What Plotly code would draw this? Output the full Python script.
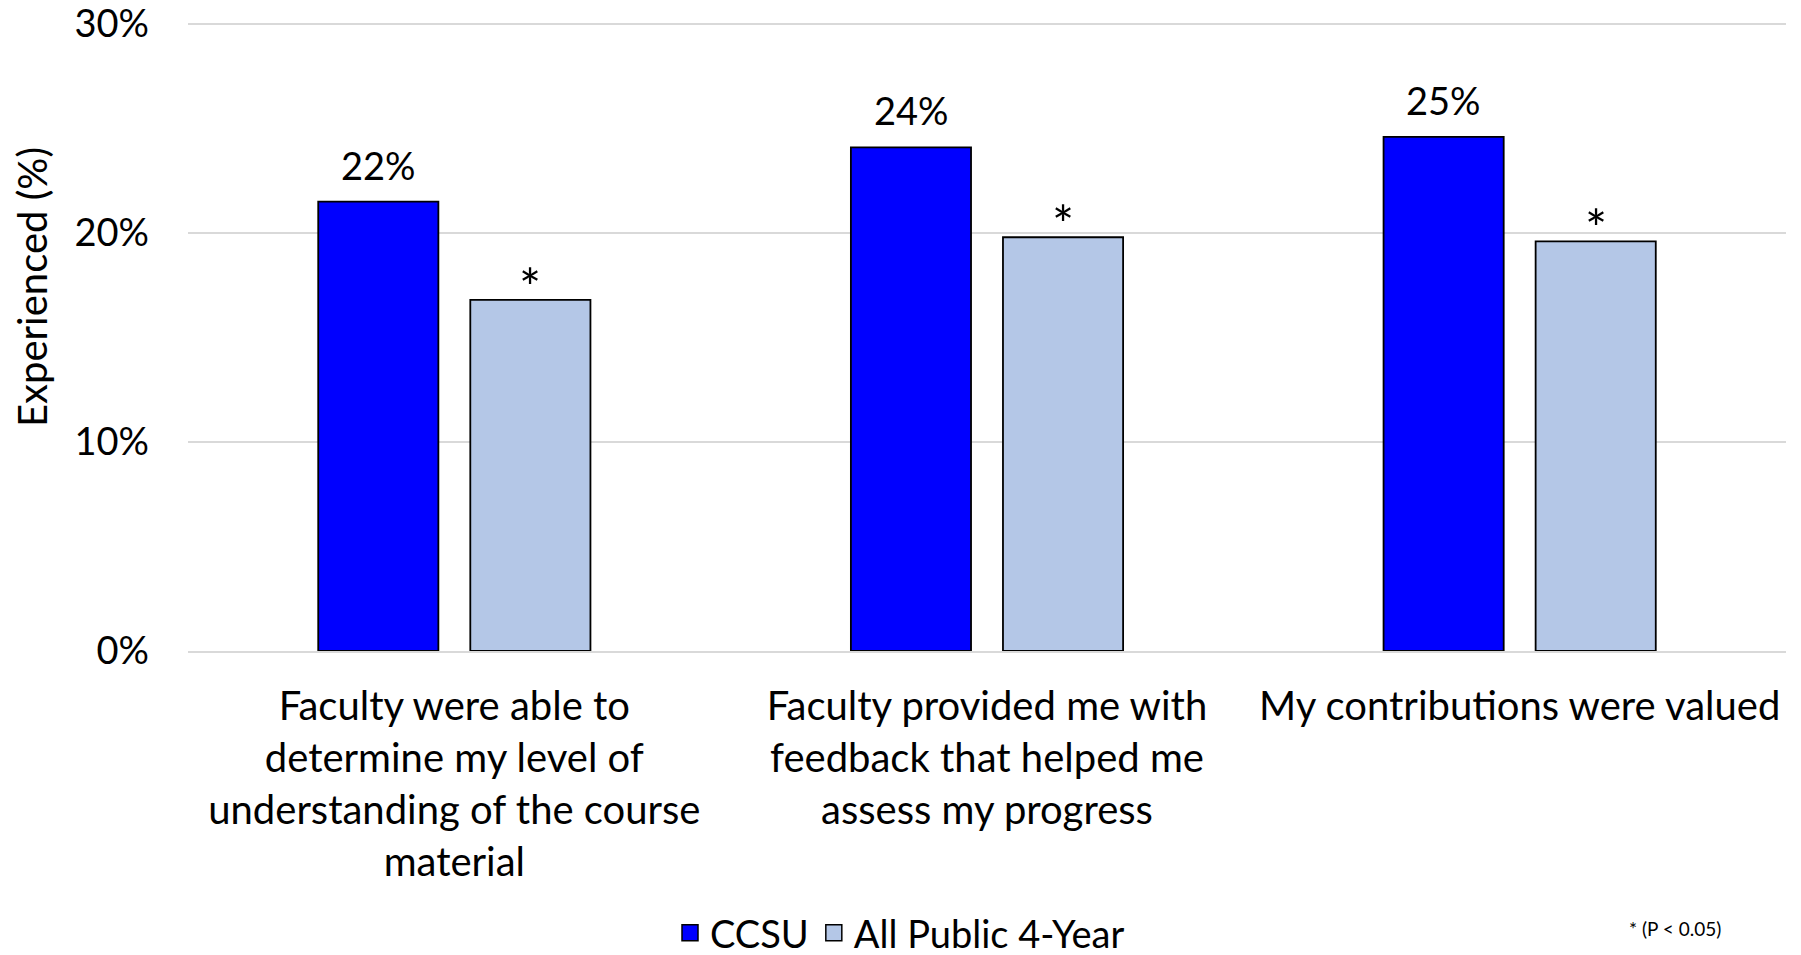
import plotly.graph_objects as go

categories = [
    "Faculty were able to<br>determine my level of<br>understanding of the course<br>material",
    "Faculty provided me with<br>feedback that helped me<br>assess my progress",
    "My contributions were valued",
]
ccsu = [21.5, 24.1, 24.6]
public4 = [16.8, 19.8, 19.6]
ccsu_labels = ["22%", "24%", "25%"]
public_labels = ["*", "*", "*"]
tick_vals = [0, 10, 20, 30]
tick_text = ["0%", "10%", "20%", "30%"]

FONT = "Lato"
FS = 38
C1 = "#0000FF"
C2 = "#B4C7E7"

# page is offset by the browser's 8px body margin
W, H = 1793, 947
L, R, T, B = 180, 15, 14, 304
PW, PH = W - L - R, H - T - B


def px(xl):
    return (xl - 8 - L) / PW


def py(yl):
    return (H - B - (yl - 8)) / PH


fig = go.Figure()
fig.add_trace(go.Bar(
    x=categories, y=ccsu, name="CCSU", marker=dict(color=C1, line=dict(color="black", width=1.8)),
    showlegend=False,
))
fig.add_trace(go.Bar(
    x=categories, y=public4, name="All Public 4-Year", marker=dict(color=C2, line=dict(color="black", width=1.8)),
    showlegend=False,
))
for nm, col in [("CCSU", C1), ("All Public 4-Year", C2)]:
    fig.add_trace(go.Scatter(
        x=[None], y=[None], mode="markers", name=nm,
        marker=dict(symbol="square", size=22, color=col, line=dict(color="black", width=1.5)),
    ))

annotations = []
for cat, v, lab in zip(categories, ccsu, ccsu_labels):
    annotations.append(dict(x=cat, y=v, xref="x", yref="y", text=lab, showarrow=False,
                            xshift=-76, yshift=12, yanchor="bottom", font=dict(size=FS)))
for cat, v, lab in zip(categories, public4, public_labels):
    annotations.append(dict(x=cat, y=v, xref="x", yref="y", text=lab, showarrow=False,
                            xshift=76, yshift=-20, yanchor="bottom", font=dict(size=52)))
annotations.append(dict(text="* (P < 0.05)", x=px(1675), y=py(928),
                        xref="paper", yref="paper", xanchor="center", yanchor="middle",
                        showarrow=False, font=dict(size=19)))
annotations.append(dict(text="Experienced (%)", x=px(32), y=py(287),
                        xref="paper", yref="paper", xanchor="center", yanchor="middle",
                        textangle=-90, showarrow=False, font=dict(size=40)))

fig.update_layout(
    width=W, height=H,
    margin=dict(l=L, r=R, t=T, b=B, autoexpand=False),
    paper_bgcolor="white", plot_bgcolor="white",
    barmode="group", bargap=0.429, bargroupgap=0.21,
    font=dict(family=FONT, size=FS, color="black"),
    showlegend=True,
    legend=dict(orientation="h", x=px(900), xanchor="center", y=1 - (933 - 8) / H, yanchor="middle",
                yref="container", font=dict(size=FS), itemwidth=30,
                tracegroupgap=0, traceorder="normal"),
    annotations=annotations,
)

fig.update_yaxes(range=[0, 30.1], tickvals=tick_vals, ticktext=tick_text, showgrid=True,
                 gridcolor="#D9D9D9", gridwidth=2, zeroline=False, showline=False,
                 ticklabelstandoff=38, tickfont=dict(size=FS), automargin=False,
                 ticklabeloverflow="allow")
fig.update_xaxes(showline=True, linecolor="#D9D9D9", linewidth=2, ticks="",
                 tickfont=dict(size=40), ticklabelstandoff=19, tickangle=0, automargin=False,
                 ticklabeloverflow="allow")

fig.write_html("out.html")
